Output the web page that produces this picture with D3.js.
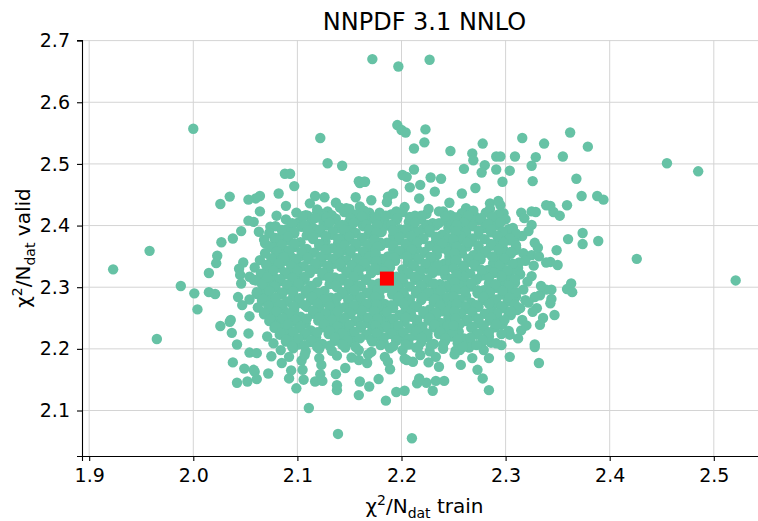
<!DOCTYPE html>
<html>
<head>
<meta charset="utf-8">
<script src="https://cdn.jsdelivr.net/npm/d3@7"></script>
<style>
  body { margin: 0; background: #fff; }
  text { font-family: 'DejaVu Sans', sans-serif; fill: #000; }
</style>
</head>
<body>
<div id="chart"></div>
<script>
// Chart title and axis ticks
const title = 'NNPDF 3.1 NNLO';
const xTicks = [1.9, 2.0, 2.1, 2.2, 2.3, 2.4, 2.5];
const yTicks = [2.1, 2.2, 2.3, 2.4, 2.5, 2.6, 2.7];

// Central fit (red square): [chi2 train, chi2 valid]
const centralFit = [2.186, 2.314];

// Replicas on the outside of the cloud: [chi2 train, chi2 valid]
const outerReplicas = [
  [2.172,2.670],[2.197,2.658],[2.227,2.669],[2.000,2.557],[2.196,2.563],[2.200,2.555],[2.204,2.551],
  [2.223,2.556],[2.122,2.542],[2.222,2.535],[2.212,2.525],[2.247,2.521],[2.278,2.533],[2.268,2.517],
  [2.291,2.512],[2.129,2.501],[2.143,2.497],[2.269,2.506],[2.280,2.498],[2.260,2.492],[2.277,2.486],
  [2.291,2.491],[2.212,2.491],[2.201,2.482],[2.205,2.479],[2.228,2.478],[2.238,2.476],[2.159,2.472],
  [2.164,2.471],[2.208,2.462],[2.218,2.466],[2.088,2.484],[2.093,2.484],[2.097,2.464],
  [2.316,2.542],[2.362,2.551],[2.337,2.533],[2.379,2.528],[2.309,2.512],[2.329,2.511],[2.355,2.512],
  [2.325,2.497],[2.304,2.489],[2.295,2.512],[2.297,2.471],[2.326,2.472],[2.368,2.476],[2.455,2.501],
  [2.485,2.488],
  [2.373,2.448],[2.388,2.448],[2.394,2.442],[2.359,2.433],[2.346,2.422],[2.352,2.416],[2.343,2.432],
  [2.374,2.388],[2.360,2.378],[2.374,2.370],[2.389,2.375],[2.349,2.360],[2.343,2.341],[2.350,2.336],
  [2.426,2.346],[2.521,2.311],[2.363,2.306],[2.359,2.297],[2.364,2.292],[2.344,2.296],[2.344,2.281],
  [2.343,2.274],[2.347,2.255],
  [2.271,2.461],[2.258,2.452],[2.232,2.455],[2.285,2.436],[2.295,2.433],[2.298,2.420],[2.274,2.409],
  [2.315,2.421],[2.325,2.423],[2.329,2.422],[2.339,2.433],[2.307,2.396],[2.325,2.401],[2.309,2.379],
  [2.328,2.372],[2.295,2.379],[2.296,2.366],[2.309,2.360],[2.317,2.355],[2.325,2.352],[2.332,2.350],
  [2.339,2.340],[2.312,2.331],[2.325,2.318],[2.304,2.317],[2.301,2.306],[2.333,2.287],[2.339,2.296],
  [2.319,2.279],[2.314,2.266],[2.330,2.266],
  [2.064,2.448],[2.060,2.444],[2.082,2.452],[2.117,2.448],[2.064,2.423],[2.089,2.432],[2.080,2.416],
  [2.058,2.406],[2.063,2.390],[2.074,2.398],[2.090,2.394],[2.069,2.371],[2.078,2.379],[2.077,2.363],
  [2.083,2.345],[2.093,2.351],[2.059,2.332],[2.058,2.312],[2.067,2.317],
  [2.160,2.469],[2.165,2.471],[2.156,2.446],[2.137,2.437],[2.160,2.431],[2.169,2.421],[2.135,2.410],
  [2.147,2.428],[2.187,2.447],[2.192,2.452],[2.119,2.421],[2.108,2.417],[2.109,2.398],[2.129,2.423],
  [2.179,2.409],
  [2.035,2.447],[2.026,2.435],[2.053,2.442],[2.053,2.408],[2.046,2.391],[2.038,2.379],[2.027,2.373],
  [1.958,2.359],[1.923,2.329],[2.023,2.351],[2.022,2.339],[2.048,2.340],[2.044,2.330],[2.015,2.323],
  [2.045,2.320],[2.046,2.306],[2.054,2.317],[1.988,2.302],[2.001,2.290],[2.015,2.292],[2.021,2.289],
  [2.043,2.284],[2.054,2.280],[2.047,2.271],[2.004,2.264],[2.036,2.247],[2.054,2.253],
  [1.965,2.216],[2.026,2.237],[2.035,2.244],[2.037,2.226],[2.053,2.225],[2.042,2.207],[2.054,2.194],
  [2.038,2.178],[2.049,2.168],[2.042,2.145],[2.052,2.147],
  [2.111,2.104],[2.139,2.062],[2.099,2.136],[2.072,2.160],[2.061,2.151],[2.059,2.163],[2.085,2.177],
  [2.092,2.152],[2.094,2.165],[2.104,2.181],[2.106,2.150],[2.105,2.166],[2.123,2.174],[2.122,2.159],
  [2.117,2.147],[2.124,2.148],[2.137,2.159],[2.138,2.133],[2.138,2.141],[2.146,2.169],[2.159,2.182],
  [2.167,2.177],[2.160,2.147],[2.169,2.139],[2.159,2.125],[2.178,2.151],[2.185,2.116],[2.195,2.130],
  [2.187,2.179],[2.189,2.167],[2.075,2.188],[2.061,2.193],[2.058,2.166],
  [2.210,2.055],[2.230,2.132],[2.203,2.132],[2.215,2.144],[2.224,2.145],[2.233,2.148],[2.241,2.148],
  [2.217,2.152],[2.284,2.133],[2.278,2.152],[2.273,2.166],[2.257,2.174],[2.236,2.171],[2.226,2.178],
  [2.205,2.182],[2.211,2.179],[2.284,2.185],[2.304,2.187],[2.332,2.177],[2.328,2.207],[2.328,2.203],
  [2.256,2.198],[2.266,2.212],[2.280,2.216],[2.286,2.210],[2.296,2.206],[2.304,2.223],[2.315,2.230],
  [2.312,2.217],[2.336,2.250],[2.326,2.260],[2.303,2.256],[2.295,2.240],
  [2.318,2.412],[2.322,2.391],[2.316,2.383],[2.331,2.364],[2.319,2.343],[2.327,2.335],[2.321,2.309],
  [2.334,2.302],[2.317,2.296],[2.328,2.284],[2.322,2.275],[2.316,2.247],[2.333,2.239],[2.320,2.238]
];

// Replicas in the dense core of the cloud: [chi2 train, chi2 valid]
const coreReplicas = [
  [2.112,2.436],[2.126,2.446],[2.141,2.429],[2.171,2.441],[2.186,2.438],[2.203,2.430],[2.217,2.444],
  [2.246,2.437],[2.262,2.428],[2.293,2.440],
  [2.099,2.421],[2.110,2.416],[2.122,2.420],[2.133,2.417],[2.145,2.422],[2.156,2.418],[2.167,2.415],
  [2.179,2.421],[2.190,2.418],[2.201,2.422],[2.213,2.416],[2.224,2.419],[2.236,2.423],[2.247,2.417],
  [2.258,2.420],[2.270,2.416],[2.281,2.421],[2.293,2.418],
  [2.089,2.410],[2.101,2.405],[2.114,2.409],[2.125,2.406],[2.137,2.411],[2.149,2.404],[2.160,2.408],
  [2.172,2.411],[2.184,2.405],[2.195,2.409],[2.207,2.406],[2.219,2.410],[2.230,2.404],[2.242,2.408],
  [2.254,2.411],[2.265,2.405],[2.277,2.409],[2.289,2.406],[2.300,2.410],
  [2.079,2.399],[2.091,2.394],[2.104,2.398],[2.116,2.395],[2.128,2.400],[2.139,2.396],[2.151,2.393],
  [2.163,2.399],[2.175,2.396],[2.186,2.400],[2.198,2.394],[2.210,2.398],[2.221,2.395],[2.233,2.400],
  [2.245,2.396],[2.256,2.393],[2.268,2.399],[2.280,2.396],[2.291,2.400],[2.303,2.394],
  [2.073,2.388],[2.085,2.383],[2.097,2.387],[2.109,2.384],[2.121,2.389],[2.133,2.385],[2.144,2.382],
  [2.156,2.388],[2.168,2.385],[2.180,2.389],[2.192,2.383],[2.204,2.387],[2.215,2.384],[2.227,2.389],
  [2.239,2.385],[2.251,2.382],[2.262,2.388],[2.274,2.385],[2.286,2.389],[2.298,2.383],[2.310,2.387],
  [2.068,2.377],[2.080,2.372],[2.091,2.376],[2.103,2.373],[2.115,2.378],[2.127,2.374],[2.139,2.371],
  [2.150,2.377],[2.162,2.374],[2.174,2.378],[2.186,2.372],[2.198,2.376],[2.209,2.373],[2.221,2.378],
  [2.233,2.374],[2.245,2.371],[2.257,2.377],[2.268,2.374],[2.280,2.378],[2.292,2.372],[2.304,2.376],
  [2.074,2.366],[2.086,2.361],[2.097,2.365],[2.109,2.362],[2.121,2.367],[2.133,2.363],[2.145,2.360],
  [2.156,2.366],[2.168,2.363],[2.180,2.367],[2.192,2.361],[2.204,2.365],[2.215,2.362],[2.227,2.367],
  [2.239,2.363],[2.251,2.360],[2.263,2.366],[2.274,2.363],[2.286,2.367],[2.298,2.361],[2.310,2.365],
  [2.069,2.355],[2.081,2.350],[2.092,2.354],[2.104,2.351],[2.116,2.356],[2.128,2.352],[2.140,2.349],
  [2.151,2.355],[2.163,2.352],[2.175,2.356],[2.187,2.350],[2.199,2.354],[2.210,2.351],[2.222,2.356],
  [2.234,2.352],[2.246,2.349],[2.258,2.355],[2.269,2.352],[2.281,2.356],[2.293,2.350],[2.305,2.354],
  [2.064,2.344],[2.076,2.339],[2.088,2.343],[2.099,2.340],[2.111,2.345],[2.123,2.341],[2.135,2.338],
  [2.147,2.344],[2.158,2.341],[2.170,2.345],[2.182,2.339],[2.194,2.343],[2.206,2.340],[2.217,2.345],
  [2.229,2.341],[2.241,2.338],[2.253,2.344],[2.265,2.341],[2.276,2.345],[2.288,2.339],[2.300,2.343],
  [2.313,2.340],
  [2.071,2.328],[2.083,2.332],[2.094,2.329],[2.106,2.334],[2.118,2.330],[2.130,2.327],[2.142,2.333],
  [2.153,2.330],[2.165,2.334],[2.177,2.328],[2.189,2.332],[2.201,2.329],[2.212,2.334],[2.224,2.330],
  [2.236,2.327],[2.248,2.333],[2.260,2.330],[2.271,2.334],[2.283,2.328],[2.295,2.332],[2.308,2.329],
  [2.065,2.322],[2.077,2.317],[2.089,2.321],[2.100,2.318],[2.112,2.323],[2.124,2.319],[2.136,2.316],
  [2.148,2.322],[2.159,2.319],[2.171,2.323],[2.195,2.317],[2.207,2.321],[2.218,2.318],[2.230,2.323],
  [2.242,2.319],[2.254,2.316],[2.266,2.322],[2.277,2.319],[2.289,2.323],[2.301,2.317],[2.314,2.321],
  [2.060,2.311],[2.072,2.306],[2.084,2.310],[2.095,2.307],[2.107,2.312],[2.119,2.308],[2.131,2.305],
  [2.143,2.311],[2.154,2.308],[2.166,2.312],[2.178,2.306],[2.190,2.310],[2.202,2.307],[2.213,2.312],
  [2.225,2.308],[2.237,2.305],[2.249,2.311],[2.261,2.308],[2.272,2.312],[2.284,2.306],[2.296,2.310],
  [2.309,2.307],
  [2.067,2.295],[2.079,2.299],[2.090,2.296],[2.102,2.301],[2.114,2.297],[2.126,2.294],[2.138,2.300],
  [2.149,2.297],[2.161,2.301],[2.173,2.295],[2.185,2.299],[2.197,2.296],[2.208,2.301],[2.220,2.297],
  [2.232,2.294],[2.244,2.300],[2.256,2.297],[2.267,2.301],[2.279,2.295],[2.291,2.299],[2.304,2.296],
  [2.061,2.289],[2.073,2.284],[2.085,2.288],[2.096,2.285],[2.108,2.290],[2.120,2.286],[2.132,2.283],
  [2.144,2.289],[2.155,2.286],[2.167,2.290],[2.179,2.284],[2.191,2.288],[2.203,2.285],[2.214,2.290],
  [2.226,2.286],[2.238,2.283],[2.250,2.289],[2.262,2.286],[2.273,2.290],[2.285,2.284],[2.297,2.288],
  [2.310,2.285],
  [2.066,2.278],[2.078,2.273],[2.090,2.277],[2.101,2.274],[2.113,2.279],[2.125,2.275],[2.137,2.272],
  [2.149,2.278],[2.160,2.275],[2.172,2.279],[2.184,2.273],[2.196,2.277],[2.208,2.274],[2.219,2.279],
  [2.231,2.275],[2.243,2.272],[2.255,2.278],[2.267,2.275],[2.278,2.279],[2.290,2.273],[2.302,2.277],
  [2.062,2.267],[2.074,2.262],[2.086,2.266],[2.097,2.263],[2.109,2.268],[2.121,2.264],[2.133,2.261],
  [2.145,2.267],[2.156,2.264],[2.168,2.268],[2.180,2.262],[2.192,2.266],[2.204,2.263],[2.215,2.268],
  [2.227,2.264],[2.239,2.261],[2.251,2.267],[2.263,2.264],[2.274,2.268],[2.286,2.262],[2.298,2.266],
  [2.311,2.263],
  [2.068,2.256],[2.080,2.251],[2.092,2.255],[2.103,2.252],[2.115,2.257],[2.127,2.253],[2.139,2.250],
  [2.151,2.256],[2.162,2.253],[2.174,2.257],[2.186,2.251],[2.198,2.255],[2.210,2.252],[2.221,2.257],
  [2.233,2.253],[2.245,2.250],[2.257,2.256],[2.269,2.253],[2.280,2.257],[2.292,2.251],[2.305,2.255],
  [2.073,2.245],[2.085,2.240],[2.097,2.244],[2.108,2.241],[2.120,2.246],[2.132,2.242],[2.144,2.239],
  [2.156,2.245],[2.167,2.242],[2.179,2.246],[2.191,2.240],[2.203,2.244],[2.215,2.241],[2.226,2.246],
  [2.238,2.242],[2.250,2.239],[2.262,2.245],[2.274,2.242],[2.285,2.246],[2.297,2.240],
  [2.078,2.234],[2.090,2.229],[2.102,2.233],[2.113,2.230],[2.125,2.235],[2.137,2.231],[2.149,2.228],
  [2.161,2.234],[2.172,2.231],[2.184,2.235],[2.196,2.229],[2.208,2.233],[2.220,2.230],[2.231,2.235],
  [2.243,2.231],[2.255,2.228],[2.267,2.234],[2.279,2.231],[2.290,2.235],[2.303,2.229],
  [2.071,2.220],[2.083,2.223],[2.095,2.218],[2.107,2.222],[2.118,2.219],[2.130,2.224],[2.142,2.220],
  [2.154,2.217],[2.166,2.223],[2.177,2.220],[2.189,2.224],[2.201,2.218],[2.213,2.222],[2.225,2.219],
  [2.236,2.224],[2.248,2.220],[2.260,2.217],[2.272,2.223],[2.284,2.220],[2.296,2.224],
  [2.077,2.209],[2.089,2.212],[2.101,2.207],[2.113,2.211],[2.124,2.208],[2.136,2.213],[2.148,2.209],
  [2.172,2.212],[2.183,2.209],[2.195,2.213],[2.207,2.207],[2.219,2.211],[2.231,2.208],[2.242,2.213],
  [2.254,2.209],[2.266,2.206],[2.278,2.212],[2.291,2.209],
  [2.084,2.198],[2.096,2.201],[2.108,2.196],[2.121,2.200],[2.133,2.197],[2.146,2.202],[2.159,2.198],
  [2.171,2.195],[2.189,2.201],[2.201,2.198],[2.214,2.202],[2.227,2.196],[2.240,2.200],[2.252,2.197],
  [2.265,2.202],[2.279,2.198],
  [2.092,2.187],[2.107,2.190],[2.121,2.185],[2.138,2.189],[2.152,2.186],[2.168,2.191],[2.184,2.187],
  [2.203,2.184],[2.218,2.190],[2.233,2.187],[2.251,2.191],[2.268,2.185]
];

// More replicas packed in between the core rows: [chi2 train, chi2 valid]
const coreFillReplicas = [
  [2.119,2.426],[2.150,2.427],[2.164,2.424],[2.195,2.423],[2.226,2.427],[2.240,2.423],[2.269,2.424],
  [2.285,2.427],
  [2.105,2.415],[2.117,2.412],[2.128,2.414],[2.151,2.412],[2.162,2.415],[2.174,2.413],[2.185,2.416],
  [2.196,2.412],[2.208,2.414],[2.219,2.416],[2.242,2.415],[2.253,2.413],[2.264,2.416],[2.276,2.412],
  [2.287,2.414],
  [2.095,2.404],[2.107,2.401],[2.131,2.405],[2.143,2.401],[2.154,2.404],[2.166,2.402],[2.178,2.405],
  [2.190,2.401],[2.213,2.405],[2.225,2.401],[2.236,2.404],[2.248,2.402],[2.260,2.405],[2.283,2.403],
  [2.295,2.405],
  [2.085,2.393],[2.097,2.390],[2.110,2.392],[2.122,2.394],[2.134,2.390],[2.145,2.393],[2.169,2.394],
  [2.181,2.390],[2.192,2.392],[2.204,2.394],[2.216,2.390],[2.227,2.393],[2.251,2.394],[2.262,2.390],
  [2.274,2.392],[2.286,2.394],[2.297,2.390],
  [2.079,2.380],[2.091,2.382],[2.115,2.381],[2.127,2.383],[2.139,2.379],[2.150,2.382],[2.162,2.380],
  [2.174,2.383],[2.198,2.381],[2.209,2.383],[2.221,2.379],[2.233,2.382],[2.245,2.380],[2.257,2.383],
  [2.268,2.379],[2.292,2.383],[2.304,2.379],
  [2.085,2.369],[2.097,2.371],[2.121,2.370],[2.145,2.368],[2.156,2.371],[2.168,2.369],[2.180,2.372],
  [2.192,2.368],[2.204,2.370],[2.215,2.372],[2.239,2.371],[2.251,2.369],[2.263,2.372],[2.274,2.368],
  [2.286,2.370],[2.298,2.372],[2.310,2.368],
  [2.080,2.358],[2.092,2.360],[2.104,2.357],[2.127,2.361],[2.139,2.357],[2.151,2.360],[2.163,2.358],
  [2.175,2.361],[2.198,2.359],[2.210,2.361],[2.222,2.357],[2.234,2.360],[2.245,2.358],[2.257,2.361],
  [2.281,2.359],[2.293,2.361],[2.305,2.357],
  [2.075,2.347],[2.087,2.349],[2.098,2.346],[2.110,2.348],[2.122,2.350],[2.134,2.346],[2.157,2.347],
  [2.169,2.350],[2.181,2.346],[2.193,2.348],[2.205,2.350],[2.216,2.346],[2.228,2.349],[2.252,2.350],
  [2.264,2.346],[2.275,2.348],[2.287,2.350],[2.299,2.346],
  [2.070,2.336],[2.082,2.338],[2.094,2.335],[2.117,2.339],[2.129,2.335],[2.141,2.338],[2.152,2.336],
  [2.164,2.339],[2.176,2.335],[2.188,2.337],[2.211,2.335],[2.223,2.338],[2.235,2.336],[2.247,2.339],
  [2.259,2.335],[2.270,2.337],[2.294,2.335],[2.307,2.338],
  [2.077,2.327],[2.088,2.324],[2.100,2.326],[2.112,2.328],[2.124,2.324],[2.147,2.325],[2.159,2.328],
  [2.171,2.324],[2.183,2.326],[2.206,2.324],[2.218,2.327],[2.230,2.325],[2.242,2.328],[2.253,2.324],
  [2.277,2.328],[2.289,2.324],[2.302,2.327],
  [2.071,2.316],[2.083,2.313],[2.095,2.315],[2.107,2.317],[2.130,2.316],[2.142,2.314],[2.154,2.317],
  [2.166,2.313],[2.201,2.314],[2.213,2.317],[2.225,2.313],[2.248,2.314],[2.260,2.317],[2.272,2.313],
  [2.284,2.315],[2.296,2.317],[2.309,2.313],
  [2.066,2.305],[2.078,2.302],[2.090,2.304],[2.101,2.306],[2.113,2.302],[2.137,2.303],[2.149,2.306],
  [2.160,2.302],[2.172,2.304],[2.184,2.306],[2.196,2.302],[2.219,2.303],[2.231,2.306],[2.243,2.302],
  [2.255,2.304],[2.267,2.306],[2.290,2.305],[2.303,2.303],
  [2.061,2.292],[2.073,2.294],[2.085,2.291],[2.096,2.293],[2.108,2.295],[2.120,2.291],[2.143,2.292],
  [2.155,2.295],[2.167,2.291],[2.179,2.293],[2.191,2.295],[2.202,2.291],[2.214,2.294],[2.226,2.292],
  [2.238,2.295],[2.261,2.293],[2.273,2.295],[2.285,2.291],[2.297,2.294],[2.310,2.292],
  [2.067,2.281],[2.079,2.283],[2.102,2.282],[2.114,2.284],[2.126,2.280],[2.138,2.283],[2.149,2.281],
  [2.161,2.284],[2.173,2.280],[2.197,2.284],[2.208,2.280],[2.220,2.283],[2.232,2.281],[2.244,2.284],
  [2.256,2.280],[2.279,2.284],[2.291,2.280],[2.304,2.283],
  [2.072,2.270],[2.084,2.272],[2.096,2.269],[2.107,2.271],[2.119,2.273],[2.131,2.269],[2.154,2.270],
  [2.166,2.273],[2.178,2.269],[2.190,2.271],[2.202,2.273],[2.213,2.269],[2.237,2.270],[2.249,2.273],
  [2.261,2.269],[2.272,2.271],[2.284,2.273],[2.296,2.269],[2.309,2.272],
  [2.068,2.259],[2.080,2.261],[2.092,2.258],[2.115,2.262],[2.127,2.258],[2.139,2.261],[2.150,2.259],
  [2.162,2.262],[2.174,2.258],[2.186,2.260],[2.209,2.258],[2.221,2.261],[2.233,2.259],[2.245,2.262],
  [2.257,2.258],[2.268,2.260],[2.292,2.258],[2.305,2.261],
  [2.074,2.248],[2.086,2.250],[2.098,2.247],[2.109,2.249],[2.121,2.251],[2.133,2.247],[2.145,2.250],
  [2.168,2.251],[2.180,2.247],[2.192,2.249],[2.204,2.251],[2.215,2.247],[2.227,2.250],[2.251,2.251],
  [2.263,2.247],[2.274,2.249],[2.286,2.251],[2.299,2.247],
  [2.079,2.237],[2.091,2.239],[2.103,2.236],[2.126,2.240],[2.138,2.236],[2.150,2.239],[2.161,2.237],
  [2.173,2.240],[2.185,2.236],[2.197,2.238],[2.220,2.236],[2.232,2.239],[2.244,2.237],[2.256,2.240],
  [2.268,2.236],[2.279,2.238],[2.291,2.240],
  [2.084,2.226],[2.096,2.228],[2.108,2.225],[2.119,2.227],[2.131,2.229],[2.143,2.225],[2.155,2.228],
  [2.178,2.229],[2.190,2.225],[2.202,2.227],[2.214,2.229],[2.225,2.225],[2.237,2.228],[2.249,2.226],
  [2.273,2.225],[2.284,2.227],
  [2.089,2.215],[2.101,2.217],[2.113,2.214],[2.136,2.218],[2.148,2.214],[2.160,2.217],[2.171,2.215],
  [2.183,2.218],[2.195,2.214],[2.207,2.216],[2.219,2.218],[2.242,2.217],[2.254,2.215],[2.266,2.218],
  [2.278,2.214],
  [2.095,2.204],[2.107,2.206],[2.119,2.203],[2.131,2.205],[2.143,2.207],[2.156,2.203],[2.180,2.206],
  [2.192,2.204],[2.204,2.207],[2.216,2.203],[2.228,2.205],[2.240,2.207],[2.259,2.203],[2.272,2.206],
  // two columns that sit in the narrow vertical gaps of the core
  [2.175,2.412],[2.177,2.401],[2.176,2.389],[2.174,2.377],[2.177,2.366],[2.175,2.354],[2.176,2.342],
  [2.174,2.331],[2.177,2.296],[2.175,2.284],[2.176,2.272],[2.174,2.261],[2.177,2.249],[2.175,2.238],
  [2.176,2.226],
  [2.251,2.413],[2.253,2.401],[2.252,2.390],[2.250,2.378],[2.253,2.366],[2.251,2.355],[2.252,2.343],
  [2.250,2.331],[2.253,2.320],[2.251,2.308],[2.252,2.296],[2.250,2.285],[2.253,2.273],[2.251,2.261],
  [2.252,2.249],[2.250,2.238]
];

// Define the dimensions of the chart
const width = 758;
const height = 521;
const margin = { top: 40, right: -9, bottom: 65, left: 82 };

const svg = d3
  .select('#chart')
  .append('svg')
  .attr('width', width)
  .attr('height', height);

// Scales
const x = d3
  .scaleLinear()
  .domain([1.8931, 2.5511])
  .range([margin.left, width - margin.right]);
const y = d3
  .scaleLinear()
  .domain([2.0262, 2.701])
  .range([height - margin.bottom, margin.top]);

// Grid lines
svg
  .append('g')
  .selectAll('line')
  .data(xTicks)
  .enter()
  .append('line')
  .attr('x1', (d) => x(d))
  .attr('x2', (d) => x(d))
  .attr('y1', y.range()[0])
  .attr('y2', y.range()[1])
  .attr('stroke', '#d4d4d4')
  .attr('stroke-width', 1);

svg
  .append('g')
  .selectAll('line')
  .data(yTicks)
  .enter()
  .append('line')
  .attr('x1', x.range()[0])
  .attr('x2', x.range()[1])
  .attr('y1', (d) => y(d))
  .attr('y2', (d) => y(d))
  .attr('stroke', '#d4d4d4')
  .attr('stroke-width', 1);

// Replica points
svg
  .append('g')
  .selectAll('circle')
  .data(outerReplicas.concat(coreReplicas, coreFillReplicas))
  .enter()
  .append('circle')
  .attr('cx', (d) => x(d[0]))
  .attr('cy', (d) => y(d[1]))
  .attr('r', 5.2)
  .attr('fill', '#66c2a5');

// Central value
svg
  .append('rect')
  .attr('x', x(centralFit[0]) - 7)
  .attr('y', y(centralFit[1]) - 7)
  .attr('width', 14)
  .attr('height', 14)
  .attr('fill', '#ff0000');

// Axes
const xAxis = svg
  .append('g')
  .attr('transform', `translate(0,${height - margin.bottom})`)
  .call(d3.axisBottom(x).tickValues(xTicks).tickFormat(d3.format('.1f')).tickSizeOuter(0).tickSize(5));
const yAxis = svg
  .append('g')
  .attr('transform', `translate(${margin.left},0)`)
  .call(d3.axisLeft(y).tickValues(yTicks).tickFormat(d3.format('.1f')).tickSizeOuter(0).tickSize(5));

[xAxis, yAxis].forEach(function (ax) {
  ax.select('.domain').attr('stroke', '#000').attr('stroke-width', 1.1);
  ax.selectAll('.tick line').attr('stroke', '#000').attr('stroke-width', 1.1);
  ax.selectAll('.tick text')
    .style('font-size', '19px')
    .style('font-family', "'DejaVu Sans', sans-serif")
    .attr('fill', '#000');
});
xAxis.selectAll('.tick text').attr('dy', '0.95em');
yAxis.selectAll('.tick text').attr('x', -12);

// Title
svg
  .append('text')
  .attr('x', (x.range()[0] + x.range()[1]) / 2)
  .attr('y', 30)
  .attr('text-anchor', 'middle')
  .style('font-size', '24px')
  .text(title);

// Axis labels with super- and subscripts
function addLabel(g, word) {
  g.append('tspan').text('χ');
  g.append('tspan').attr('dy', -8).style('font-size', '14px').text('2');
  g.append('tspan').attr('dy', 8).text('/N');
  g.append('tspan').attr('dy', 5).style('font-size', '14px').text('dat');
  g.append('tspan').attr('dy', -5).text(' ' + word);
}

const xLabel = svg
  .append('text')
  .attr('x', (x.range()[0] + x.range()[1]) / 2)
  .attr('y', 513)
  .attr('text-anchor', 'middle')
  .style('font-size', '20px');
addLabel(xLabel, 'train');

const yLabel = svg
  .append('text')
  .attr('transform', `translate(30,${(y.range()[0] + y.range()[1]) / 2}) rotate(-90)`)
  .attr('text-anchor', 'middle')
  .style('font-size', '20px');
addLabel(yLabel, 'valid');
</script>
</body>
</html>
